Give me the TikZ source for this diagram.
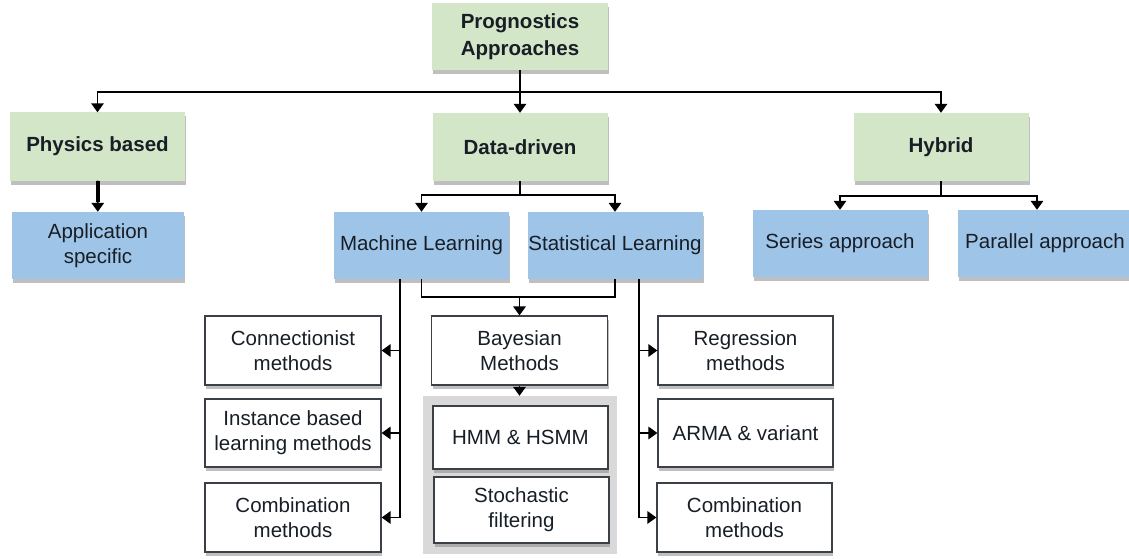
\documentclass[tikz,border=0pt]{standalone}
\usepackage{fontspec}
\setmainfont{Liberation Sans}
\usetikzlibrary{arrows.meta, shadows}

\definecolor{boxgreen}{RGB}{212,230,200}
\definecolor{boxblue}{RGB}{158,197,232}
\definecolor{inkdark}{RGB}{24,30,38}

\tikzset{
  box/.style={rectangle, inner sep=0pt, align=center, text=inkdark,
    minimum width=175pt, minimum height=68pt,
    font=\fontsize{20.5}{25}\selectfont,
    drop shadow={shadow xshift=1pt, shadow yshift=-4pt, opacity=0.5}},
  greenbox/.style={box, fill=boxgreen, font=\fontsize{20.5}{26.5}\selectfont\bfseries},
  bluebox/.style={box, fill=boxblue},
  whitebox/.style={box, fill=white, draw=inkdark!85, line width=1.2pt},
  arr/.style={-{Triangle[length=9pt,width=12.5pt]}, line width=1.6pt},
  link/.style={line width=1.6pt},
}

\begin{document}
\begin{tikzpicture}[x=1pt, y=-1pt]
\useasboundingbox (0,0) rectangle (1129,559);

% top level
\node[greenbox, minimum width=176pt, minimum height=67pt] (prog) at (520,36.5) {Prognostics\\Approaches};
\node[greenbox] (phys) at (97.5,146.5) {Physics based};
\node[greenbox] (data) at (520,147) {Data-driven};
\node[greenbox] (hyb) at (941,147) {Hybrid};

% second level
\node[bluebox, minimum width=172pt, minimum height=67pt] (app) at (98,245.5) {Application\\specific};
\node[bluebox, minimum height=67pt] (ml) at (421.5,245.5) {Machine Learning};
\node[bluebox, minimum height=67pt] (sl) at (615,245.5) {Statistical Learning};
\node[bluebox, minimum height=67pt] (ser) at (840,243.5) {Series approach};
\node[bluebox, minimum height=67pt] (par) at (1045,243.5) {Parallel approach};

% methods
\node[whitebox, minimum width=176pt, minimum height=69pt] (conn) at (293,350.5) {Connectionist\\methods};
\node[whitebox, minimum width=176pt] (inst) at (293,433) {Instance based\\learning methods};
\node[whitebox, minimum width=176pt, minimum height=69pt] (comba) at (293,517.5) {Combination\\methods};
\node[whitebox, minimum width=176pt, minimum height=69pt] (bayes) at (519.5,350.5) {Bayesian\\Methods};
\node[fill=gray!30, inner sep=0pt, minimum width=194pt, minimum height=158pt] (panel) at (520,475) {};
\node[whitebox, minimum height=63pt] (hmm) at (520.5,437.5) {HMM \& HSMM};
\node[whitebox, minimum height=66pt] (stoch) at (521.5,510) {Stochastic\\filtering};
\node[whitebox, minimum height=69pt] (regr) at (745.5,350.5) {Regression\\methods};
\node[whitebox] (arma) at (745.5,433) {ARMA \& variant};
\node[whitebox, minimum height=69pt] (combb) at (744.5,517.5) {Combination\\methods};

% connectors
\coordinate (topbus) at (520,92);
\draw[link] (prog) -- (topbus);
\draw[arr] (topbus) -| (phys);
\draw[arr] (topbus) -| (hyb);
\draw[arr] (topbus) -- (data);
\draw[arr] (phys) -- (app);
\draw[line width=4pt] (phys.south) -- ++(0,21);

\coordinate (databus) at (520,195);
\draw[link] (data) -- (databus);
\draw[arr] (databus) -| (ml);
\draw[arr] (databus) -| (sl);

\coordinate (hybbus) at (941,196);
\draw[link] (hyb) -- (hybbus);
\draw[arr] (hybbus) -| (ser);
\draw[arr] (hybbus) -| ([xshift=-8pt]par.north);

\draw[link] (ml.south) -- ++(0,18) -| (sl.south);
\coordinate (bayesjoin) at (519.5,297);
\draw[arr] (bayesjoin) -- (bayes);
\draw[arr] (bayes) -- (bayes |- panel.north);

\coordinate (mltrunk) at (400,279);
\draw[arr] (mltrunk) |- (conn);
\draw[arr] (mltrunk) |- (inst);
\draw[arr] (mltrunk) |- (comba);

\coordinate (sltrunk) at (639,279);
\draw[arr] (sltrunk) |- (regr);
\draw[arr] (sltrunk) |- (arma);
\draw[arr] (sltrunk) |- (combb);
\end{tikzpicture}
\end{document}
